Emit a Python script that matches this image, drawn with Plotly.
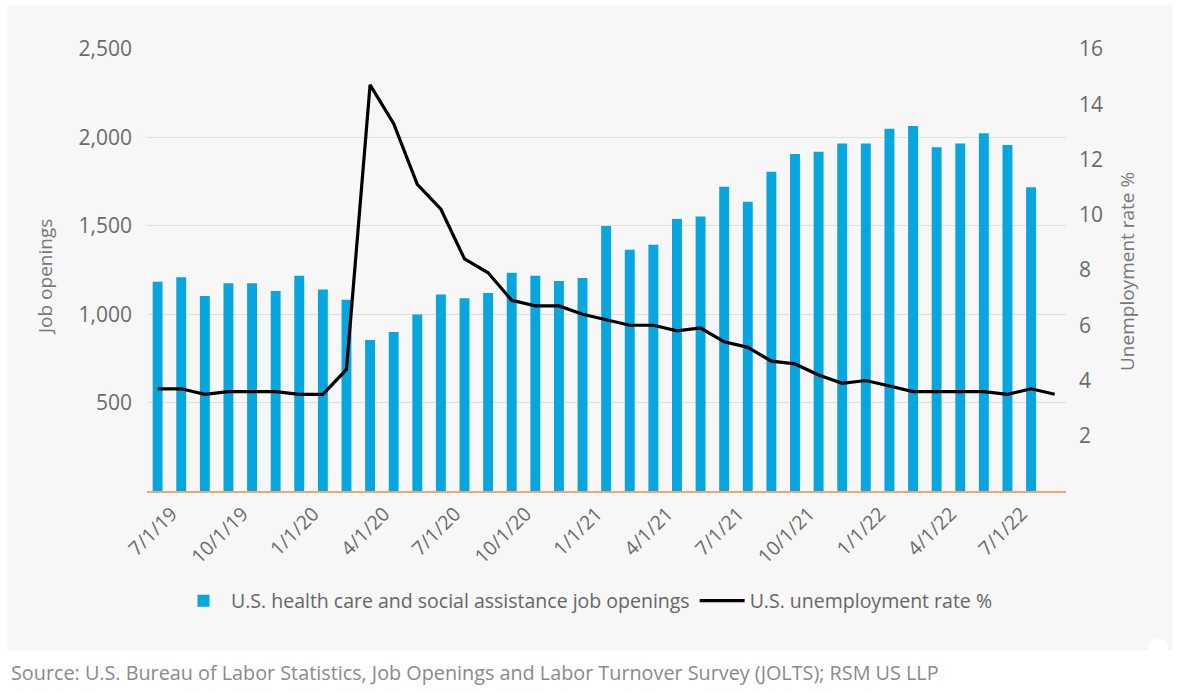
import plotly.graph_objects as go

# ---- data ----
months = [
    "7/1/19", "8/1/19", "9/1/19", "10/1/19", "11/1/19", "12/1/19",
    "1/1/20", "2/1/20", "3/1/20", "4/1/20", "5/1/20", "6/1/20",
    "7/1/20", "8/1/20", "9/1/20", "10/1/20", "11/1/20", "12/1/20",
    "1/1/21", "2/1/21", "3/1/21", "4/1/21", "5/1/21", "6/1/21",
    "7/1/21", "8/1/21", "9/1/21", "10/1/21", "11/1/21", "12/1/21",
    "1/1/22", "2/1/22", "3/1/22", "4/1/22", "5/1/22", "6/1/22",
    "7/1/22", "8/1/22", "9/1/22",
]
job_openings = [
    1184, 1209, 1103, 1175, 1175, 1131, 1218, 1139, 1082, 854, 899, 999,
    1112, 1090, 1120, 1235, 1218, 1188, 1205, 1499, 1365, 1393, 1538, 1552,
    1721, 1636, 1806, 1906, 1919, 1966, 1966, 2049, 2064, 1944, 1966, 2023,
    1957, 1718,
]
unemployment = [
    3.7, 3.7, 3.5, 3.6, 3.6, 3.6, 3.5, 3.5, 4.4, 14.7, 13.3, 11.1,
    10.2, 8.4, 7.9, 6.9, 6.7, 6.7, 6.4, 6.2, 6.0, 6.0, 5.8, 5.9,
    5.4, 5.2, 4.7, 4.6, 4.2, 3.9, 4.0, 3.8, 3.6, 3.6, 3.6, 3.6,
    3.5, 3.7, 3.5,
]
x_tick_labels = ["7/1/19", "10/1/19", "1/1/20", "4/1/20", "7/1/20", "10/1/20",
                 "1/1/21", "4/1/21", "7/1/21", "10/1/21", "1/1/22", "4/1/22", "7/1/22"]
left_ticks = [500, 1000, 1500, 2000, 2500]
right_ticks = [2, 4, 6, 8, 10, 12, 14, 16]

bar_name = "U.S. health care and social assistance job openings"
line_name = "U.S. unemployment rate %"
source_text = "Source: U.S. Bureau of Labor Statistics, Job Openings and Labor Turnover Survey (JOLTS); RSM US LLP"

# ---- layout geometry ----
W, H = 1180, 693
L, R, T, B = 147, 1066, 49, 491

def px(xp):
    return (xp - L) / (R - L)

def py(yp):
    return (B - yp) / (B - T)

FONT = "Open Sans"
TICK_GRAY = "#6b6b6b"

fig = go.Figure()
fig.add_trace(go.Bar(
    x=months[:len(job_openings)], y=job_openings, name=bar_name,
    marker=dict(color="#08a6de", line=dict(width=0)), width=0.42,
    yaxis="y",
))
fig.add_trace(go.Scatter(
    x=months[:len(unemployment)], y=unemployment, name=line_name,
    mode="lines", line=dict(color="#000000", width=3.2),
    yaxis="y2",
))

fig.update_layout(
    width=W, height=H,
    margin=dict(l=L, r=W - R, t=T, b=H - B, pad=0),
    paper_bgcolor="#ffffff",
    plot_bgcolor="rgba(0,0,0,0)",
    font=dict(family=FONT, color=TICK_GRAY, size=19),
    bargap=0.58,
    showlegend=True,
    legend=dict(
        orientation="h", x=px(587), xanchor="center", y=py(601), yanchor="middle",
        font=dict(size=19.5, color="#666666", family=FONT),
        bgcolor="rgba(0,0,0,0)", itemwidth=45, tracegroupgap=0,
    ),
    xaxis=dict(
        type="category", categoryorder="array", categoryarray=months,
        range=[-0.45, len(months) - 0.52],
        tickmode="array", tickvals=x_tick_labels, ticktext=x_tick_labels,
        tickangle=-45, tickfont=dict(size=19.5, color=TICK_GRAY),
        ticklabelshift=14, ticklabelstandoff=2,
        showgrid=False, showline=True, linecolor="#f5a46c", linewidth=1.5,
        ticks="", zeroline=False, fixedrange=True,
    ),
    yaxis=dict(
        range=[0, 2500], tickmode="array", tickvals=left_ticks,
        tickformat=",d", tickfont=dict(size=21, color=TICK_GRAY),
        showgrid=True, gridcolor="#dedede", gridwidth=1.3,
        zeroline=False, showline=False, ticks="", ticklabelstandoff=14,
    ),
    yaxis2=dict(
        range=[0, 16], overlaying="y", side="right", tickmode="array",
        tickvals=right_ticks, tickfont=dict(size=21, color=TICK_GRAY),
        showgrid=False, zeroline=False, showline=False, ticks="",
        ticklabelstandoff=12,
    ),
    shapes=[
        dict(type="rect", xref="paper", yref="paper", layer="below",
             x0=px(7), x1=px(1173), y0=py(650), y1=py(5),
             fillcolor="#f7f7f7", line=dict(width=0)),
        dict(type="circle", xref="paper", yref="paper", layer="below",
             x0=px(1148), x1=px(1168), y0=py(658), y1=py(638),
             fillcolor="#ffffff", line=dict(width=0)),
    ],
    annotations=[
        dict(text="Job openings", xref="paper", yref="paper", x=px(45), y=py(277),
             textangle=-90, showarrow=False, xanchor="center", yanchor="middle",
             font=dict(size=19, color="#777777", family=FONT)),
        dict(text="Unemployment rate %", xref="paper", yref="paper", x=px(1127), y=py(272),
             textangle=-90, showarrow=False, xanchor="center", yanchor="middle",
             font=dict(size=19, color="#777777", family=FONT)),
        dict(text=source_text, xref="paper", yref="paper", x=px(9), y=py(672),
             showarrow=False, xanchor="left", yanchor="middle",
             font=dict(size=19.8, color="#8a8a8a", family=FONT)),
    ],
)

fig.write_html("out.html")
